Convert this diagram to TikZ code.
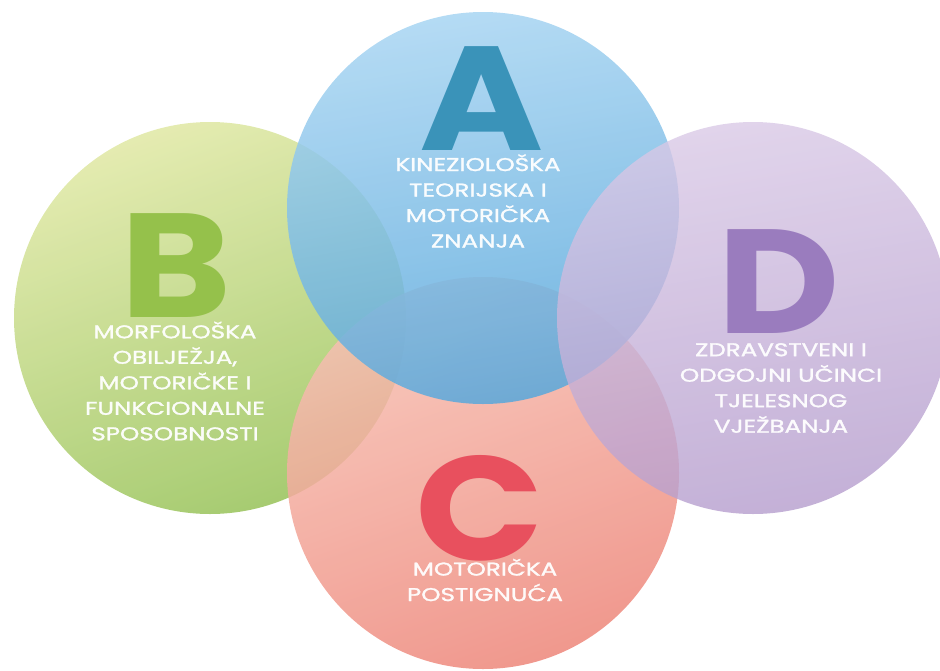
\documentclass[tikz,border=0pt]{standalone}
\usepackage{fontspec}
\setmainfont{Poppins}
\newfontfamily\labfont[FakeBold=1.5, FakeStretch=1.33]{Poppins}
\newfontfamily\bigfont[FakeStretch=1.14]{Poppins}
\definecolor{gTop}{HTML}{E0E8A4}
\definecolor{gBot}{HTML}{98C35A}
\definecolor{bTop}{HTML}{A8D5F2}
\definecolor{bBot}{HTML}{5AA8DB}
\definecolor{pTop}{HTML}{D9C9E6}
\definecolor{pBot}{HTML}{B59DCD}
\definecolor{rTop}{HTML}{F6C2B4}
\definecolor{rBot}{HTML}{EE877B}
\definecolor{letA}{HTML}{3A93B9}
\definecolor{letB}{HTML}{95C14B}
\definecolor{letC}{HTML}{E8505E}
\definecolor{letD}{HTML}{9A7CBE}
\tikzset{
  disc/.style={circle, minimum size=392pt, inner sep=0pt, fill opacity=0.86, shade, shading=axis},
  bigletter/.style={anchor=base, inner sep=0pt, font=\bigfont\fontsize{148}{148}\selectfont\bfseries},
  lbltext/.style={align=center, inner sep=0pt, text=white, text opacity=0.95, font=\labfont\fontsize{18.5}{25.5}\selectfont}
}
\begin{document}
\begin{tikzpicture}[x=1pt,y=-1pt]
\useasboundingbox (0,0) rectangle (940,670);
\node[disc, top color=gTop, bottom color=gBot, shading angle=20] (circB) at (210,318) {};
\node[disc, top color=rTop, bottom color=rBot, shading angle=20] (circC) at (483,473) {};
\node[disc, top color=bTop, bottom color=bBot, shading angle=10] (circA) at (483,208) {};
\node[disc, top color=pTop, bottom color=pBot, shading angle=10, fill opacity=0.8] (circD) at (753,318) {};
\node[bigletter, text=letA] (letterA) at (482,150) {A};
\node[bigletter, text=letB] (letterB) at (176,317) {B};
\node[bigletter, text=letC] (letterC) at (480,560) {C};
\node[bigletter, text=letD] (letterD) at (779,333) {D};
\node[lbltext] (textA) at (478,201) {KINEZIOLOŠKA\\TEORIJSKA I\\MOTORIČKA\\ZNANJA};
\node[lbltext] (textB) at (175,381) {MORFOLOŠKA\\OBILJEŽJA,\\MOTORIČKE I\\FUNKCIONALNE\\SPOSOBNOSTI};
\node[lbltext] (textC) at (485,580) {MOTORIČKA\\POSTIGNUĆA};
\node[lbltext] (textD) at (781,388) {ZDRAVSTVENI I\\ODGOJNI UČINCI\\TJELESNOG\\VJEŽBANJA};
\end{tikzpicture}
\end{document}
